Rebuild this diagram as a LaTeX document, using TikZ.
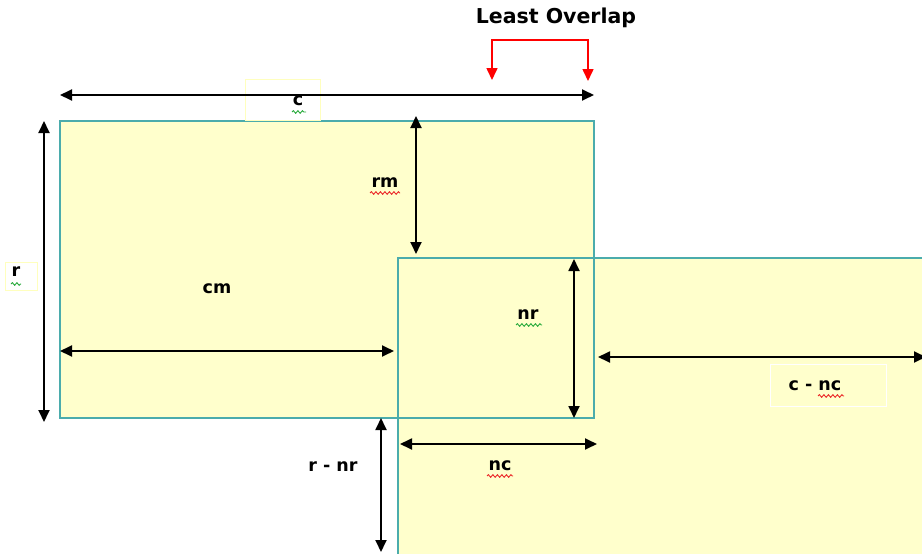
\documentclass[tikz,border=0pt]{standalone}
\usepackage{fontspec}
\setmainfont{DejaVu Sans}
\usetikzlibrary{arrows.meta,decorations.pathmorphing}
\definecolor{fillyel}{RGB}{255,255,204}
\definecolor{tealb}{RGB}{75,172,172}
\definecolor{faintyel}{RGB}{255,255,190}
\definecolor{squigg}{RGB}{40,170,60}
\definecolor{squigr}{RGB}{235,40,40}
\tikzset{
  area/.style={fill=fillyel, draw=none, inner sep=0pt, outer sep=0pt},
  border/.style={draw=tealb, line width=1.6pt},
  dim/.style={line width=1.8pt, {Triangle[length=12pt,width=11pt]}-{Triangle[length=12pt,width=11pt]}},
  redarr/.style={red, line width=1.6pt, {Triangle[length=12pt,width=11pt]}-{Triangle[length=12pt,width=11pt]}},
  lbl/.style={font=\bfseries\fontsize{17.5}{20}\selectfont, inner sep=0pt},
  titl/.style={font=\bfseries\fontsize{20.5}{24}\selectfont, inner sep=0pt},
  lblbox/.style={draw=faintyel, line width=1pt, fill=white, inner sep=0pt},
  lblbox2/.style={draw=white, line width=1.2pt, fill=fillyel, inner sep=0pt},
  squig/.style={line width=0.9pt, decorate, decoration={snake, segment length=4.5pt, amplitude=1.3pt}}
}
\begin{document}
\begin{tikzpicture}[x=1pt,y=-1pt]
\useasboundingbox (0,0) rectangle (922,554);
\clip (0,0) rectangle (922,554);
\fill[white] (0,0) rectangle (922,554);
% areas
\node[area, anchor=north west, minimum width=534pt, minimum height=297pt] (R1) at (60,121) {};
\node[area, anchor=north west, minimum width=560pt, minimum height=320pt] (R2) at (398,258) {};
\draw[border] (R1.north west) rectangle (R1.south east);
\draw[border] (R2.north west) rectangle (R2.south east);
% label boxes
\node[lblbox, anchor=north west, minimum width=75pt, minimum height=41pt] (cbox) at (245,79) {};
\node[lblbox, anchor=north west, minimum width=32pt, minimum height=28pt] (rbox) at (5,262) {};
\node[lblbox2, anchor=north west, minimum width=116pt, minimum height=42pt] (cncbox) at (770,364) {};
% coordinates for dimension arrows
\coordinate (c1) at (60,95);   \coordinate (c2) at (594,95);
\coordinate (r1) at (44,121);  \coordinate (r2) at (44,422);
\coordinate (rm1) at (416,116); \coordinate (rm2) at (416,254);
\coordinate (cm1) at (60,351); \coordinate (cm2) at (394,351);
\coordinate (nr1) at (574,259); \coordinate (nr2) at (574,418);
\coordinate (cn1) at (598,357); \coordinate (cn2) at (926,357);
\coordinate (nc1) at (400,444); \coordinate (nc2) at (597,444);
\coordinate (rn1) at (381,418); \coordinate (rn2) at (381,552);
\coordinate (la) at (492,80); \coordinate (lm) at (540,40); \coordinate (lb) at (588,81);
\draw[dim] (c1) -- (c2);
\draw[dim] (r1) -- (r2);
\draw[dim] (rm1) -- (rm2);
\draw[dim] (cm1) -- (cm2);
\draw[dim] (nr1) -- (nr2);
\draw[dim] (cn1) -- (cn2);
\draw[dim] (nc1) -- (nc2);
\draw[dim] (rn1) -- (rn2);
\draw[redarr] (la) |- (lm) -| (lb);
% texts
\node[titl] (lo) at (556,18) {Least Overlap};
\node[lbl] (tc) at (298,101) {c};
\node[lbl] (tr) at (16,272) {r};
\node[lbl] (trm) at (385,183) {rm};
\node[lbl] (tcm) at (217,289) {cm};
\node[lbl] (tnr) at (528,315) {nr};
\node[lbl] (tcnc) at (815,386) {c - nc};
\node[lbl] (tnc) at (500,466) {nc};
\node[lbl] (trnr) at (333,467) {r - nr};
% spell-check squiggles
\draw[squig, squigg] (292,112) -- (306,112);
\draw[squig, squigg] (11,284) -- (21,284);
\draw[squig, squigr] (370,193) -- (400,193);
\draw[squig, squigg] (516,325) -- (542,325);
\draw[squig, squigr] (818,396) -- (844,396);
\draw[squig, squigr] (487,476) -- (513,476);
\end{tikzpicture}
\end{document}
